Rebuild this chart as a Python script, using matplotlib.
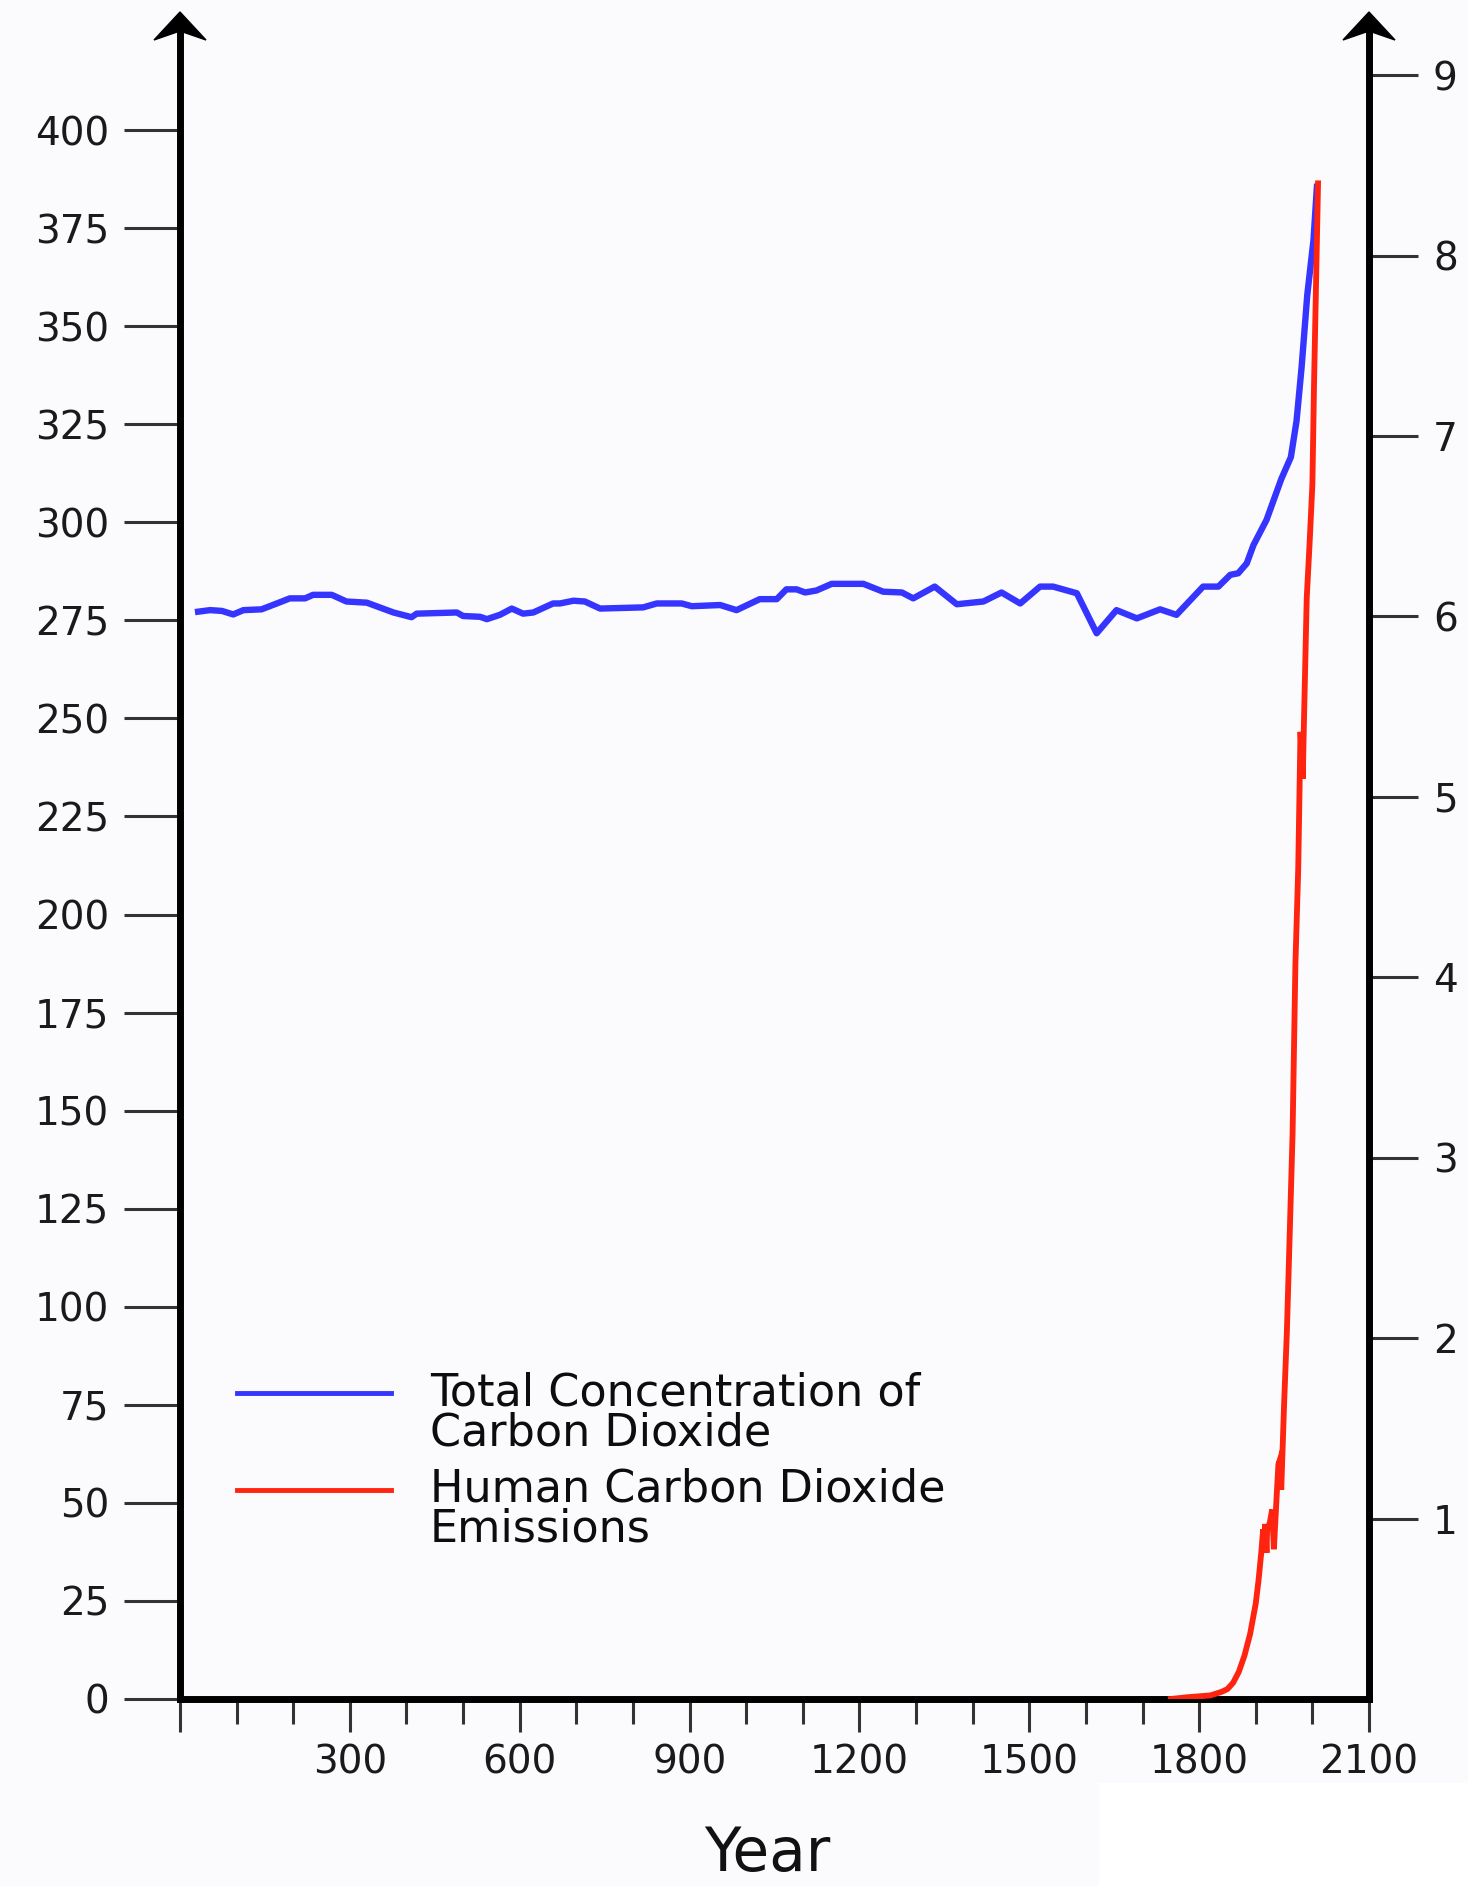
import numpy as np
import matplotlib.pyplot as plt
from matplotlib.lines import Line2D
from matplotlib.patches import Polygon, Rectangle

### Data
# Total concentration of CO2 (ppm, left axis)
co2_years = [32, 53, 74, 94, 112, 144, 171, 194, 221, 235, 268, 294, 330, 377, 409, 418,
             489, 500, 530, 542, 565, 586, 606, 624, 659, 671, 695, 715, 742, 818, 842,
             886, 904, 954, 983, 1024, 1054, 1071, 1089, 1104, 1124, 1151, 1207, 1242,
             1275, 1295, 1333, 1372, 1419, 1451, 1484, 1519, 1542, 1584, 1619, 1654,
             1690, 1731, 1760, 1807, 1834, 1855, 1869, 1884, 1896, 1919, 1930, 1945,
             1962, 1972, 1981, 1991, 2002, 2008]
co2_ppm = [277.2, 277.6, 277.4, 276.5, 277.6, 277.8, 279.3, 280.6, 280.6, 281.5, 281.5,
           279.8, 279.5, 277.0, 275.8, 276.7, 277.0, 276.1, 275.9, 275.3, 276.4, 278.0,
           276.7, 277.0, 279.3, 279.3, 280.0, 279.8, 278.0, 278.3, 279.3, 279.3, 278.6,
           278.9, 277.6, 280.4, 280.4, 282.9, 282.9, 282.1, 282.6, 284.3, 284.3, 282.3,
           282.1, 280.6, 283.6, 279.1, 279.8, 282.1, 279.3, 283.6, 283.6, 281.9, 271.7,
           277.6, 275.5, 277.8, 276.4, 283.6, 283.6, 286.6, 287.0, 289.5, 294.2, 300.6,
           305.0, 311.0, 316.6, 325.8, 339.6, 358.0, 372.0, 385.5]

# Human CO2 emissions (right axis)
emis_years = [1750, 1780, 1800, 1820, 1840, 1850, 1860, 1870, 1880, 1890, 1900, 1905,
              1910, 1913, 1915, 1917, 1919, 1920, 1925, 1929, 1932, 1937, 1940, 1942,
              1945, 1950, 1955, 1960, 1965, 1970, 1975, 1979, 1983, 1985, 1990, 1995,
              2000, 2003, 2010]
emis_vals = [0.0, 0.01, 0.015, 0.02, 0.04, 0.055, 0.09, 0.15, 0.24, 0.36, 0.53, 0.66,
             0.82, 0.94, 0.84, 0.97, 0.81, 0.93, 0.98, 1.05, 0.83, 1.13, 1.30, 1.32,
             1.16, 1.63, 2.04, 2.58, 3.13, 4.07, 4.60, 5.36, 5.10, 5.40, 6.10, 6.40,
             6.73, 7.30, 8.40]

left_ticks = np.arange(0, 401, 25)
right_ticks = np.arange(1, 10)
x_major = np.arange(0, 2101, 300)
x_minor = [t for t in range(0, 2101, 100) if t % 300]
x_labels = [''] + [str(t) for t in x_major[1:]]

legend_lines = [['Total Concentration of', 'Carbon Dioxide'],
                ['Human Carbon Dioxide', 'Emissions']]

blue = '#3535ff'
red = '#ff2410'
bg = '#fbfbfd'

### Figure (pixel helpers for the 1468x1886 canvas)
W, H = 1468, 1886
def fx(x): return x / W
def fy(y): return 1 - y / H

fig = plt.figure(figsize=(W / 100, H / 100), dpi=100, facecolor=bg)
ax = fig.add_axes([fx(180), fy(1699), (1369 - 180) / W, (1699 - 30) / H])
ax.set_facecolor('none')
ax2 = ax.twinx()

ax2.plot(emis_years, emis_vals, color=red, lw=4.2, solid_joinstyle='miter', zorder=3)
ax.plot(co2_years, co2_ppm, color=blue, lw=4.6, zorder=4)

ax.set_xlim(0, 2100)
ax.set_ylim(0, 425.5)
ax2.set_ylim(0, 9.25)

## Spines
for sp in ['top', 'right']:
    ax.spines[sp].set_visible(False)
for sp in ['top', 'left', 'bottom']:
    ax2.spines[sp].set_visible(False)
for s in [ax.spines['left'], ax.spines['bottom'], ax2.spines['right']]:
    s.set_linewidth(5)
    s.set_color('black')
    s.set_capstyle('projecting')

## Ticks
ax.set_yticks(left_ticks)
ax.tick_params(axis='y', direction='out', length=40, width=2.2, pad=11,
               labelsize=28, color='#333333', labelcolor='#1a1a1a')
ax.set_xticks(x_major)
ax.set_xticklabels(x_labels)
ax.set_xticks(x_minor, minor=True)
ax.tick_params(axis='x', which='major', direction='out', length=24, width=2.2, pad=8,
               labelsize=28, color='#333333', labelcolor='#1a1a1a')
ax.tick_params(axis='x', which='minor', direction='out', length=18, width=2.2,
               color='#333333')
ax2.set_yticks(right_ticks)
ax2.tick_params(axis='y', direction='out', length=35, width=2.2, pad=11,
                labelsize=28, color='#333333', labelcolor='#1a1a1a')

ax.set_xlabel('Year', fontsize=43, color='#111111')
ax.xaxis.set_label_coords(0.4937, -0.0755)

## Arrowheads on top of both vertical axes
for x0 in [180, 1369]:
    pts = [(fx(x0), fy(12)), (fx(x0 + 26), fy(40)), (fx(x0), fy(31)), (fx(x0 - 26), fy(40))]
    fig.add_artist(Polygon(pts, closed=True, transform=fig.transFigure,
                           facecolor='black', edgecolor='black', lw=1))

## Legend (drawn by hand, handle level with first text line)
handle_y = [1393, 1490]
text_base = [[1405, 1445], [1502, 1541]]
for col, hy, lines, bases in zip([blue, red], handle_y, legend_lines, text_base):
    fig.add_artist(Line2D([fx(237), fx(391)], [fy(hy), fy(hy)], color=col, lw=3.5,
                          transform=fig.transFigure))
    for txt, b in zip(lines, bases):
        fig.text(fx(430), fy(b), txt, fontsize=32, color='#0d0d0d', va='baseline')

# white patch bottom right of the original image
fig.add_artist(Rectangle((fx(1099), 0), 1 - fx(1099), fy(1783), transform=fig.transFigure,
                         facecolor='white', edgecolor='none', zorder=0))

fig.savefig('out.png', dpi=100, facecolor=bg)
